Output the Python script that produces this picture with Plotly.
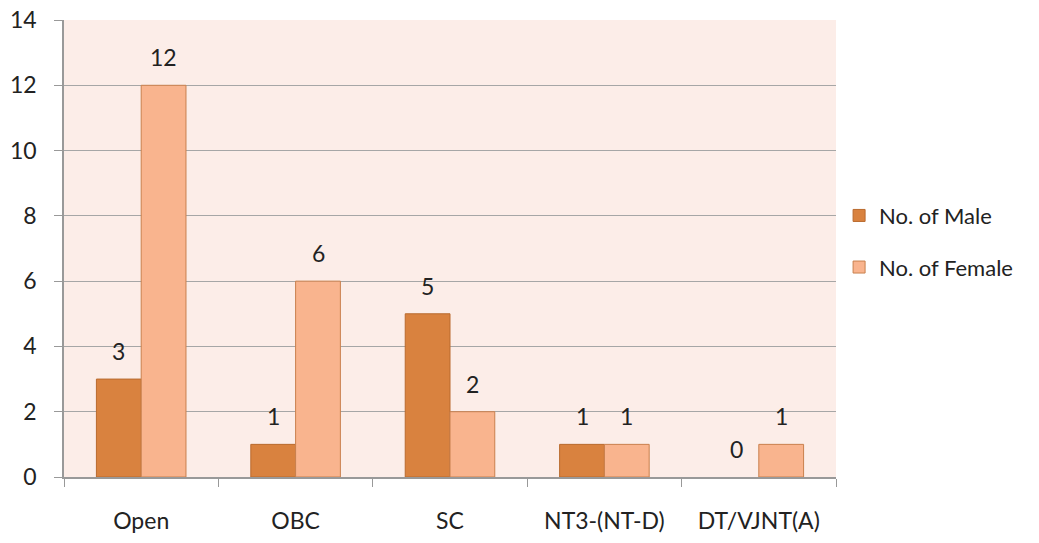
import plotly.graph_objects as go

categories = ["Open", "OBC", "SC", "NT3-(NT-D)", "DT/VJNT(A)"]
male = [3, 1, 5, 1, 0]
female = [12, 6, 2, 1, 1]
y_ticks = [0, 2, 4, 6, 8, 10, 12, 14]

FONT = "Lato"
FS = 23
fig = go.Figure()
fig.add_trace(go.Bar(
    x=categories, y=male, name="No. of Male", legendgroup="m",
    marker=dict(color="#D9823F",
                line=dict(color="#B96A2E", width=[1 if v else 0 for v in male])),
))
fig.add_trace(go.Bar(
    x=categories, y=female, name="No. of Female", legendgroup="f",
    marker=dict(color="#F9B48E",
                line=dict(color="#C9804E", width=[1 if v else 0 for v in female])),
))
annotations = []
for series, shift in ((male, -22.4), (female, 22.4)):
    for c, v in zip(categories, series):
        annotations.append(dict(x=c, y=v, xref="x", yref="y", text=str(v),
                                showarrow=False, xshift=shift, yshift=28,
                                font=dict(size=FS, family=FONT, color="#222")))
fig.update_layout(
    width=1023, height=527,
    margin=dict(l=56, r=195, t=12, b=58),
    paper_bgcolor="white", plot_bgcolor="#FCEDE8",
    barmode="group", bargap=0.42, bargroupgap=0,
    font=dict(family=FONT, size=FS, color="#222"),
    annotations=annotations,
    legend=dict(x=1.004, y=0.515, xanchor="left", yanchor="middle",
                font=dict(size=22, family=FONT), traceorder="grouped",
                tracegroupgap=20, itemwidth=30),
    xaxis=dict(showline=True, linecolor="#999", linewidth=1.5, automargin=False,
               ticks="outside", ticklen=8, tickcolor="#999", tickson="boundaries",
               ticklabelstandoff=23, ticklabeloverflow="allow",
               showgrid=False, tickfont=dict(size=FS, family=FONT)),
    yaxis=dict(range=[0, 14], tickvals=y_ticks, showline=True, linecolor="#999",
               linewidth=1.5, ticks="outside", ticklen=8, tickcolor="#999",
               automargin=False, ticklabelstandoff=13, ticklabeloverflow="allow",
               gridcolor="#A6A6A6", gridwidth=1, zeroline=False,
               tickfont=dict(size=FS, family=FONT)),
)
fig.write_html("out.html")
